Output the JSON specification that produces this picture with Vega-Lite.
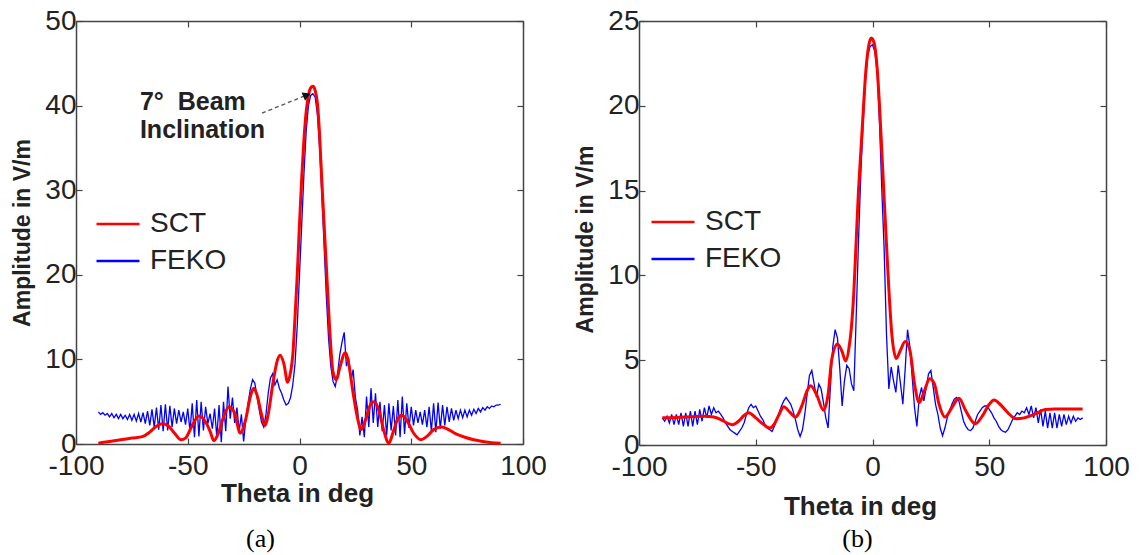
{
 "$schema": "https://vega.github.io/schema/vega-lite/v6.json",
 "background": "white",
 "padding": {"left": 11, "top": 7, "right": 5, "bottom": 2},
 "spacing": 116,
 "bounds": "flush",
 "resolve": {"scale": {"color": "independent"}, "legend": {"color": "independent"}},
 "config": {
  "view": {"stroke": null},
  "axis": {"domainColor": "#444", "domainWidth": 1.5, "tickColor": "#444", "tickSize": -6, "tickWidth": 1.2, "grid": false,
           "labelFont": "Liberation Sans", "labelFontSize": 28, "labelColor": "#222", "labelFlush": false, "labelOverlap": false, "labelPadding": 6,
           "titleFont": "Liberation Sans", "titleColor": "#222", "titleFontWeight": "bold"},
  "axisX": {"labelPadding": 14, "labelExpr": "datum.value < 0 ? '-' + abs(datum.value) : '' + datum.value"},
  "legend": {"labelFont": "Liberation Sans", "labelFontSize": 28, "labelColor": "#222", "symbolType": "stroke", "symbolSize": 1849, "symbolStrokeWidth": 2.5, "labelOffset": 9, "rowPadding": 0, "padding": 0},
  "title": {"font": "Liberation Serif", "fontSize": 26, "fontWeight": "normal", "color": "#000"}
 },
 "datasets": {
  "a_feko": [
   {"theta":-90,"amp":3.8},{"theta":-89,"amp":3.5},{"theta":-88,"amp":3.7},{"theta":-87,"amp":3.4},{"theta":-86,"amp":3.6},{"theta":-85,"amp":3.2},{"theta":-84,"amp":3.6},{"theta":-83,"amp":3.1},{"theta":-82,"amp":3.5},{"theta":-81,"amp":3.0},
   {"theta":-80,"amp":3.5},{"theta":-79,"amp":3.0},{"theta":-78,"amp":3.4},{"theta":-77,"amp":2.9},{"theta":-76,"amp":3.5},{"theta":-75,"amp":2.8},{"theta":-74,"amp":3.5},{"theta":-73,"amp":2.7},{"theta":-72,"amp":3.6},{"theta":-71,"amp":2.6},
   {"theta":-70,"amp":3.7},{"theta":-69,"amp":2.4},{"theta":-68,"amp":3.9},{"theta":-67,"amp":2.2},{"theta":-66,"amp":4.1},{"theta":-65,"amp":2.0},{"theta":-64,"amp":4.3},{"theta":-63,"amp":1.7},{"theta":-62,"amp":4.6},{"theta":-61,"amp":1.5},
   {"theta":-60,"amp":4.7},{"theta":-59,"amp":1.6},{"theta":-58,"amp":4.5},{"theta":-57,"amp":2.0},{"theta":-56,"amp":4.2},{"theta":-55,"amp":2.4},{"theta":-54,"amp":4.0},{"theta":-53,"amp":2.6},{"theta":-52,"amp":3.8},{"theta":-51,"amp":2.3},
   {"theta":-50,"amp":4.2},{"theta":-49,"amp":1.5},{"theta":-48,"amp":4.8},{"theta":-47,"amp":0.8},{"theta":-46,"amp":5.2},{"theta":-45,"amp":0.9},{"theta":-44,"amp":5.0},{"theta":-43,"amp":1.6},{"theta":-42,"amp":4.4},{"theta":-41,"amp":2.4},
   {"theta":-40,"amp":3.6},{"theta":-39,"amp":1.8},{"theta":-38,"amp":4.2},{"theta":-37,"amp":0.8},{"theta":-36,"amp":4.6},{"theta":-35,"amp":0.2},{"theta":-34,"amp":5.0},{"theta":-33,"amp":1.5},{"theta":-32,"amp":6.8},{"theta":-31,"amp":3.0},
   {"theta":-30,"amp":5.5},{"theta":-29,"amp":2.5},{"theta":-28,"amp":4.3},{"theta":-27,"amp":1.5},{"theta":-26,"amp":3.5},{"theta":-25,"amp":0.3},{"theta":-24,"amp":3.0},{"theta":-23,"amp":4.8},{"theta":-22,"amp":6.5},{"theta":-21,"amp":7.6},
   {"theta":-20,"amp":7.2},{"theta":-19,"amp":5.6},{"theta":-18,"amp":4.0},{"theta":-17,"amp":2.6},{"theta":-16,"amp":2.0},{"theta":-15,"amp":3.5},{"theta":-14,"amp":6.0},{"theta":-13,"amp":7.8},{"theta":-12,"amp":8.3},{"theta":-11,"amp":7.0},
   {"theta":-10,"amp":7.6},{"theta":-9,"amp":6.6},{"theta":-8,"amp":6.0},{"theta":-7,"amp":5.2},{"theta":-6,"amp":4.6},{"theta":-5,"amp":4.8},{"theta":-4,"amp":5.5},{"theta":-3,"amp":7.0},{"theta":-2,"amp":9.5},{"theta":-1,"amp":14},
   {"theta":0,"amp":20},{"theta":1,"amp":26},{"theta":2,"amp":32},{"theta":3,"amp":37},{"theta":4,"amp":40},{"theta":5,"amp":41.2},{"theta":6,"amp":41.4},{"theta":7,"amp":41},{"theta":8,"amp":39},{"theta":9,"amp":35},
   {"theta":10,"amp":29.5},{"theta":11,"amp":23.5},{"theta":12,"amp":17.5},{"theta":13,"amp":12.5},{"theta":14,"amp":9.2},{"theta":15,"amp":7.4},{"theta":16,"amp":6.8},{"theta":17,"amp":8.2},{"theta":18,"amp":10.5},{"theta":19,"amp":12.0},
   {"theta":20,"amp":13.2},{"theta":21,"amp":9.2},{"theta":22,"amp":10.2},{"theta":23,"amp":7.4},{"theta":24,"amp":8.8},{"theta":25,"amp":5.5},{"theta":26,"amp":4.0},{"theta":27,"amp":1.0},{"theta":28,"amp":3.2},{"theta":29,"amp":0.8},
   {"theta":30,"amp":5.6},{"theta":31,"amp":2.0},{"theta":32,"amp":6.6},{"theta":33,"amp":2.5},{"theta":34,"amp":6.0},{"theta":35,"amp":2.0},{"theta":36,"amp":5.0},{"theta":37,"amp":1.5},{"theta":38,"amp":4.6},{"theta":39,"amp":1.0},
   {"theta":40,"amp":4.8},{"theta":41,"amp":1.6},{"theta":42,"amp":4.5},{"theta":43,"amp":1.0},{"theta":44,"amp":5.2},{"theta":45,"amp":0.8},{"theta":46,"amp":5.6},{"theta":47,"amp":1.2},{"theta":48,"amp":4.8},{"theta":49,"amp":1.9},
   {"theta":50,"amp":4.4},{"theta":51,"amp":2.2},{"theta":52,"amp":4.0},{"theta":53,"amp":2.5},{"theta":54,"amp":3.8},{"theta":55,"amp":2.3},{"theta":56,"amp":4.0},{"theta":57,"amp":2.0},{"theta":58,"amp":4.4},{"theta":59,"amp":1.5},
   {"theta":60,"amp":4.8},{"theta":61,"amp":1.4},{"theta":62,"amp":4.9},{"theta":63,"amp":1.8},{"theta":64,"amp":4.6},{"theta":65,"amp":2.2},{"theta":66,"amp":4.4},{"theta":67,"amp":2.6},{"theta":68,"amp":4.2},{"theta":69,"amp":2.8},
   {"theta":70,"amp":4.0},{"theta":71,"amp":3.0},{"theta":72,"amp":4.0},{"theta":73,"amp":3.1},{"theta":74,"amp":4.0},{"theta":75,"amp":3.2},{"theta":76,"amp":4.0},{"theta":77,"amp":3.4},{"theta":78,"amp":4.1},{"theta":79,"amp":3.6},
   {"theta":80,"amp":4.2},{"theta":81,"amp":3.8},{"theta":82,"amp":4.3},{"theta":83,"amp":4.0},{"theta":84,"amp":4.4},{"theta":85,"amp":4.2},{"theta":86,"amp":4.5},{"theta":87,"amp":4.4},{"theta":88,"amp":4.6},{"theta":89,"amp":4.6},
   {"theta":90,"amp":4.7}
  ],
  "a_sct": [
   {"theta":-90,"amp":0.1},{"theta":-85,"amp":0.3},{"theta":-80,"amp":0.5},{"theta":-75,"amp":0.7},{"theta":-70,"amp":0.9},{"theta":-67,"amp":1.4},{"theta":-64,"amp":2.1},{"theta":-61.5,"amp":2.4},{"theta":-59,"amp":2.2},{"theta":-56,"amp":1.3},
   {"theta":-53,"amp":0.5},{"theta":-51,"amp":0.7},{"theta":-48,"amp":2.2},{"theta":-45,"amp":3.3},{"theta":-42,"amp":2.6},{"theta":-40,"amp":1.5},{"theta":-38.3,"amp":0.4},{"theta":-36,"amp":1.5},{"theta":-34,"amp":3.2},{"theta":-31.5,"amp":4.4},
   {"theta":-29,"amp":3.6},{"theta":-26.5,"amp":1.3},{"theta":-24,"amp":3.0},{"theta":-22,"amp":5.6},{"theta":-20.5,"amp":6.6},{"theta":-19,"amp":5.8},{"theta":-17,"amp":3.5},{"theta":-15.5,"amp":2.2},{"theta":-14,"amp":3.5},{"theta":-12,"amp":7.0},
   {"theta":-10,"amp":9.8},{"theta":-8.7,"amp":10.5},{"theta":-7,"amp":9.5},{"theta":-5.3,"amp":7.3},{"theta":-4,"amp":8.5},{"theta":-3,"amp":10.5},{"theta":-2,"amp":15},{"theta":-1,"amp":20},{"theta":0,"amp":26},{"theta":1,"amp":31.5},
   {"theta":2,"amp":36},{"theta":3,"amp":39.3},{"theta":4,"amp":41.2},{"theta":5,"amp":42.1},{"theta":6,"amp":42.3},{"theta":7,"amp":41.8},{"theta":8,"amp":40.3},{"theta":9,"amp":36.5},{"theta":10,"amp":31},{"theta":11,"amp":26},
   {"theta":12,"amp":21},{"theta":13,"amp":16},{"theta":14,"amp":11.5},{"theta":15,"amp":8.5},{"theta":16.5,"amp":7.6},{"theta":18,"amp":9.0},{"theta":20.5,"amp":10.8},{"theta":22,"amp":9.5},{"theta":24,"amp":6.0},{"theta":26,"amp":3.0},
   {"theta":27.5,"amp":1.7},{"theta":29.5,"amp":2.8},{"theta":31.5,"amp":4.5},{"theta":33.3,"amp":5.0},{"theta":35.5,"amp":4.0},{"theta":37.5,"amp":1.8},{"theta":40,"amp":0.1},{"theta":42,"amp":1.5},{"theta":44,"amp":3.0},{"theta":45.8,"amp":3.4},
   {"theta":48,"amp":2.8},{"theta":51,"amp":1.3},{"theta":54.4,"amp":0.5},{"theta":57,"amp":0.9},{"theta":60,"amp":1.7},{"theta":63.5,"amp":2.0},{"theta":66,"amp":1.8},{"theta":70,"amp":1.2},{"theta":74,"amp":0.8},{"theta":78,"amp":0.5},
   {"theta":82,"amp":0.3},{"theta":86,"amp":0.15},{"theta":90,"amp":0.1}
  ],
  "a_notes": [
   {"theta":-71.4,"amp":40.4,"label":"7°\u00a0 Beam"},
   {"theta":-71.4,"amp":37.1,"label":"Inclination"}
  ],
  "a_arrow": [{"theta":-16.8,"amp":39.1,"theta2":2.8,"amp2":41.2}],
  "a_head": [{"theta":3.3,"amp":41.25}],
  "b_feko": [
   {"theta":-90,"amp":1.6},{"theta":-89,"amp":1.4},{"theta":-88,"amp":1.7},{"theta":-87,"amp":1.3},{"theta":-86,"amp":1.8},{"theta":-85,"amp":1.2},{"theta":-84,"amp":1.8},{"theta":-83,"amp":1.2},{"theta":-82,"amp":1.9},{"theta":-81,"amp":1.1},
   {"theta":-80,"amp":1.9},{"theta":-79,"amp":1.1},{"theta":-78,"amp":2.0},{"theta":-77,"amp":1.1},{"theta":-76,"amp":2.0},{"theta":-75,"amp":1.2},{"theta":-74,"amp":2.1},{"theta":-73,"amp":1.4},{"theta":-72,"amp":2.2},{"theta":-71,"amp":1.6},
   {"theta":-70,"amp":2.3},{"theta":-69,"amp":1.8},{"theta":-68,"amp":2.2},{"theta":-67,"amp":1.9},{"theta":-66,"amp":2.0},{"theta":-65,"amp":1.8},{"theta":-64,"amp":1.6},{"theta":-63,"amp":1.3},{"theta":-62,"amp":1.1},{"theta":-61,"amp":0.9},
   {"theta":-60,"amp":0.8},{"theta":-59,"amp":0.7},{"theta":-58,"amp":0.6},{"theta":-57,"amp":0.8},{"theta":-56,"amp":1.0},{"theta":-55,"amp":1.3},{"theta":-54,"amp":1.8},{"theta":-53,"amp":2.2},{"theta":-52,"amp":2.4},{"theta":-51,"amp":2.2},
   {"theta":-50,"amp":2.3},{"theta":-49,"amp":2.0},{"theta":-48,"amp":1.7},{"theta":-47,"amp":1.5},{"theta":-46,"amp":1.2},{"theta":-45,"amp":1.0},{"theta":-44,"amp":0.9},{"theta":-43,"amp":0.8},{"theta":-42,"amp":1.1},{"theta":-41,"amp":1.5},
   {"theta":-40,"amp":1.9},{"theta":-39,"amp":2.3},{"theta":-38,"amp":2.6},{"theta":-37,"amp":2.8},{"theta":-36,"amp":2.6},{"theta":-35,"amp":2.4},{"theta":-34,"amp":2.0},{"theta":-33,"amp":1.5},{"theta":-32,"amp":0.9},{"theta":-31,"amp":0.5},
   {"theta":-30,"amp":0.9},{"theta":-29,"amp":1.8},{"theta":-28,"amp":3.0},{"theta":-27,"amp":4.1},{"theta":-26,"amp":4.4},{"theta":-25,"amp":3.6},{"theta":-24,"amp":2.8},{"theta":-23,"amp":3.6},{"theta":-22,"amp":3.3},{"theta":-21,"amp":2.5},
   {"theta":-20,"amp":1.6},{"theta":-19,"amp":1.0},{"theta":-18,"amp":3.5},{"theta":-17,"amp":5.8},{"theta":-16,"amp":6.8},{"theta":-15,"amp":6.3},{"theta":-14,"amp":4.5},{"theta":-13,"amp":2.3},{"theta":-12,"amp":3.8},{"theta":-11,"amp":4.7},
   {"theta":-10,"amp":4.5},{"theta":-9,"amp":3.6},{"theta":-8,"amp":3.2},{"theta":-7,"amp":7.5},{"theta":-6,"amp":12},{"theta":-5,"amp":16},{"theta":-4,"amp":19},{"theta":-3,"amp":21.5},{"theta":-2,"amp":23},{"theta":-1,"amp":23.5},
   {"theta":0,"amp":23.6},{"theta":1,"amp":23.2},{"theta":2,"amp":22},{"theta":3,"amp":19},{"theta":4,"amp":15},{"theta":5,"amp":11.5},{"theta":6,"amp":6.5},{"theta":7,"amp":3.3},{"theta":8,"amp":4.6},{"theta":9,"amp":3.8},
   {"theta":10,"amp":3.1},{"theta":11,"amp":4.7},{"theta":12,"amp":3.6},{"theta":13,"amp":2.4},{"theta":14,"amp":4.5},{"theta":15,"amp":6.8},{"theta":16,"amp":5.8},{"theta":17,"amp":4.0},{"theta":18,"amp":2.2},{"theta":19,"amp":1.1},
   {"theta":20,"amp":2.8},{"theta":21,"amp":3.4},{"theta":22,"amp":2.6},{"theta":23,"amp":3.4},{"theta":24,"amp":4.2},{"theta":25,"amp":4.4},{"theta":26,"amp":3.4},{"theta":27,"amp":2.4},{"theta":28,"amp":1.8},{"theta":29,"amp":1.0},
   {"theta":30,"amp":0.55},{"theta":31,"amp":1.0},{"theta":32,"amp":1.6},{"theta":33,"amp":2.0},{"theta":34,"amp":2.4},{"theta":35,"amp":2.7},{"theta":36,"amp":2.8},{"theta":37,"amp":2.6},{"theta":38,"amp":2.0},{"theta":39,"amp":1.4},
   {"theta":40,"amp":1.1},{"theta":41,"amp":0.9},{"theta":42,"amp":0.85},{"theta":43,"amp":1.0},{"theta":44,"amp":1.4},{"theta":45,"amp":1.8},{"theta":46,"amp":2.0},{"theta":47,"amp":2.2},{"theta":48,"amp":2.3},{"theta":49,"amp":2.3},
   {"theta":50,"amp":2.1},{"theta":51,"amp":1.9},{"theta":52,"amp":1.6},{"theta":53,"amp":1.4},{"theta":54,"amp":1.1},{"theta":55,"amp":0.9},{"theta":56,"amp":0.8},{"theta":57,"amp":0.75},{"theta":58,"amp":0.9},{"theta":59,"amp":1.2},
   {"theta":60,"amp":1.5},{"theta":61,"amp":1.7},{"theta":62,"amp":1.9},{"theta":63,"amp":1.8},{"theta":64,"amp":2.0},{"theta":65,"amp":1.9},{"theta":66,"amp":2.2},{"theta":67,"amp":1.8},{"theta":68,"amp":2.3},{"theta":69,"amp":1.6},
   {"theta":70,"amp":2.2},{"theta":71,"amp":1.3},{"theta":72,"amp":2.1},{"theta":73,"amp":1.1},{"theta":74,"amp":2.0},{"theta":75,"amp":1.0},{"theta":76,"amp":1.9},{"theta":77,"amp":1.0},{"theta":78,"amp":1.9},{"theta":79,"amp":1.0},
   {"theta":80,"amp":1.8},{"theta":81,"amp":1.1},{"theta":82,"amp":1.8},{"theta":83,"amp":1.2},{"theta":84,"amp":1.7},{"theta":85,"amp":1.3},{"theta":86,"amp":1.7},{"theta":87,"amp":1.4},{"theta":88,"amp":1.6},{"theta":89,"amp":1.5},
   {"theta":90,"amp":1.6}
  ],
  "b_sct": [
   {"theta":-90,"amp":1.6},{"theta":-84,"amp":1.62},{"theta":-78,"amp":1.66},{"theta":-72,"amp":1.7},{"theta":-68,"amp":1.65},{"theta":-65,"amp":1.5},{"theta":-62,"amp":1.28},{"theta":-60,"amp":1.2},{"theta":-57,"amp":1.45},{"theta":-55,"amp":1.75},
   {"theta":-53,"amp":1.9},{"theta":-50,"amp":1.6},{"theta":-47,"amp":1.25},{"theta":-44,"amp":1.0},{"theta":-42,"amp":1.25},{"theta":-40,"amp":1.8},{"theta":-38,"amp":2.25},{"theta":-35.5,"amp":1.95},{"theta":-33,"amp":1.65},{"theta":-30,"amp":2.4},
   {"theta":-28,"amp":3.2},{"theta":-26.5,"amp":3.5},{"theta":-24,"amp":3.0},{"theta":-21,"amp":2.05},{"theta":-19,"amp":3.0},{"theta":-17.5,"amp":5.0},{"theta":-15,"amp":5.95},{"theta":-13,"amp":5.5},{"theta":-11.5,"amp":4.95},{"theta":-10,"amp":5.8},
   {"theta":-9,"amp":7},{"theta":-8,"amp":9},{"theta":-7,"amp":12},{"theta":-6,"amp":15},{"theta":-5,"amp":17.3},{"theta":-4,"amp":19.6},{"theta":-3,"amp":21.8},{"theta":-2,"amp":23.2},{"theta":-1,"amp":23.9},{"theta":-0.5,"amp":24.0},
   {"theta":0,"amp":23.95},{"theta":1,"amp":23.5},{"theta":2,"amp":22.2},{"theta":3,"amp":20},{"theta":4,"amp":17.3},{"theta":5,"amp":14.5},{"theta":6,"amp":11.8},{"theta":7,"amp":9.2},{"theta":8.3,"amp":6.5},{"theta":10.2,"amp":5.1},
   {"theta":12,"amp":5.6},{"theta":14,"amp":6.1},{"theta":16,"amp":5.6},{"theta":18,"amp":3.6},{"theta":20,"amp":2.5},{"theta":22,"amp":3.1},{"theta":24.5,"amp":3.9},{"theta":26.5,"amp":3.6},{"theta":28.5,"amp":2.4},{"theta":31,"amp":1.65},
   {"theta":34,"amp":2.2},{"theta":37,"amp":2.75},{"theta":40,"amp":2.0},{"theta":44,"amp":1.25},{"theta":47,"amp":1.7},{"theta":50,"amp":2.4},{"theta":52,"amp":2.65},{"theta":55,"amp":2.35},{"theta":58,"amp":1.9},{"theta":61.5,"amp":1.55},
   {"theta":65,"amp":1.6},{"theta":70,"amp":1.85},{"theta":74,"amp":2.1},{"theta":78,"amp":2.12},{"theta":90,"amp":2.12}
  ]
 },
 "hconcat": [
  {
   "width": 447, "height": 423,
   "title": {"text": "(a)", "orient": "bottom", "offset": 20, "dx": -39},
   "resolve": {"axis": {"x": "independent", "y": "independent"}},
   "layer": [
    {"data": {"name": "a_feko"}, "mark": {"type": "line", "strokeWidth": 1.3},
     "encoding": {
      "x": {"field": "theta", "type": "quantitative", "scale": {"domain": [-100, 100], "nice": false},
            "axis": {"orient": "bottom", "values": [-100, -50, 0, 50, 100], "title": "Theta in deg", "titleFontSize": 26, "titlePadding": 0, "titleX": 221}},
      "y": {"field": "amp", "type": "quantitative", "scale": {"domain": [0, 50], "nice": false, "zero": false},
            "axis": {"orient": "left", "values": [0, 10, 20, 30, 40, 50], "title": "Amplitude in V/m", "titleFontSize": 23, "titlePadding": 10}},
      "color": {"datum": "FEKO", "type": "nominal", "scale": {"domain": ["SCT", "FEKO"], "range": ["#ff0000", "#0000ff"]},
                "legend": {"orient": "none", "legendX": 19, "legendY": 180, "title": null}}
     }},
    {"data": {"name": "a_sct"}, "mark": {"type": "line", "strokeWidth": 3, "interpolate": "monotone"},
     "encoding": {
      "x": {"field": "theta", "type": "quantitative", "axis": {"orient": "top", "values": [-100, -50, 0, 50, 100], "labels": false, "title": null}},
      "y": {"field": "amp", "type": "quantitative", "axis": {"orient": "right", "values": [0, 10, 20, 30, 40, 50], "labels": false, "title": null}},
      "color": {"datum": "SCT", "type": "nominal"}
     }},
    {"data": {"name": "a_arrow"}, "mark": {"type": "rule", "strokeDash": [4, 3], "color": "#555", "strokeWidth": 1.3},
     "encoding": {
      "x": {"field": "theta", "type": "quantitative", "axis": null}, "y": {"field": "amp", "type": "quantitative", "axis": null},
      "x2": {"field": "theta2"}, "y2": {"field": "amp2"}
     }},
    {"data": {"name": "a_head"}, "mark": {"type": "point", "shape": "triangle-right", "filled": true, "color": "#111", "opacity": 1, "size": 80, "angle": 337},
     "encoding": {"x": {"field": "theta", "type": "quantitative", "axis": null}, "y": {"field": "amp", "type": "quantitative", "axis": null}}},
    {"data": {"name": "a_notes"}, "mark": {"type": "text", "align": "left", "baseline": "middle", "font": "Liberation Sans", "fontSize": 25, "fontWeight": "bold", "color": "#222"},
     "encoding": {"x": {"field": "theta", "type": "quantitative", "axis": null}, "y": {"field": "amp", "type": "quantitative", "axis": null}, "text": {"field": "label"}}}
   ]
  },
  {
   "width": 467, "height": 424,
   "title": {"text": "(b)", "orient": "bottom", "offset": 7, "dx": -15},
   "resolve": {"axis": {"x": "independent", "y": "independent"}},
   "layer": [
    {"data": {"name": "b_feko"}, "mark": {"type": "line", "strokeWidth": 1.3},
     "encoding": {
      "x": {"field": "theta", "type": "quantitative", "scale": {"domain": [-100, 100], "nice": false},
            "axis": {"orient": "bottom", "values": [-100, -50, 0, 50, 100], "title": "Theta in deg", "titleFontSize": 26, "titlePadding": 12, "titleX": 221}},
      "y": {"field": "amp", "type": "quantitative", "scale": {"domain": [0, 25], "nice": false, "zero": false},
            "axis": {"orient": "left", "values": [0, 5, 10, 15, 20, 25], "title": "Amplitude in V/m", "titleFontSize": 23, "titlePadding": 10, "titleY": 218}},
      "color": {"datum": "FEKO", "type": "nominal", "scale": {"domain": ["SCT", "FEKO"], "range": ["#ff0000", "#0000ff"]},
                "legend": {"orient": "none", "legendX": 11, "legendY": 178, "title": null}}
     }},
    {"data": {"name": "b_sct"}, "mark": {"type": "line", "strokeWidth": 3, "interpolate": "monotone"},
     "encoding": {
      "x": {"field": "theta", "type": "quantitative", "axis": {"orient": "top", "values": [-100, -50, 0, 50, 100], "labels": false, "title": null}},
      "y": {"field": "amp", "type": "quantitative", "axis": {"orient": "right", "values": [0, 5, 10, 15, 20, 25], "labels": false, "title": null}},
      "color": {"datum": "SCT", "type": "nominal"}
     }}
   ]
  }
 ]
}
